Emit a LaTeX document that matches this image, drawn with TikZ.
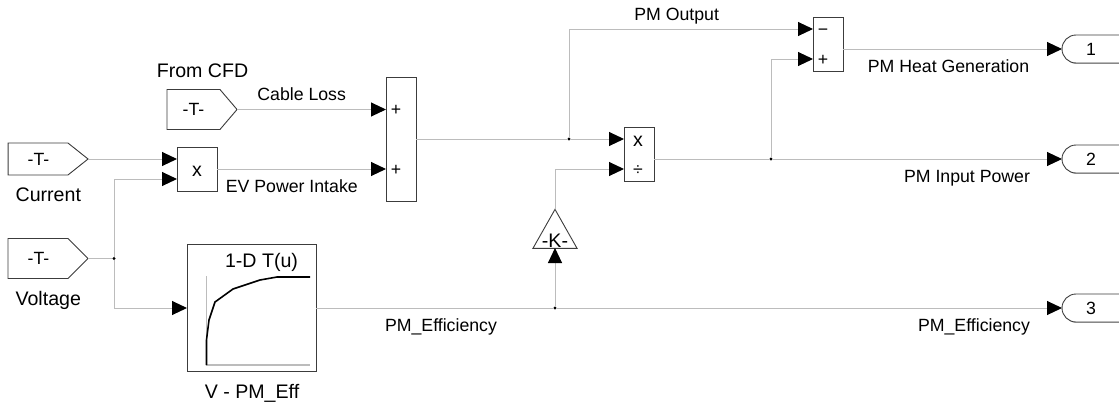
\documentclass[tikz,border=0pt]{standalone}
\usepackage{fontspec}
\setmainfont{Liberation Sans}
\usepackage{tikz}
\usetikzlibrary{arrows.meta}
\usetikzlibrary{shadows}
\usetikzlibrary{shapes.geometric}
\usetikzlibrary{shapes.misc}
\usetikzlibrary{shapes.symbols}
\definecolor{wire}{HTML}{BCBCBC}
\definecolor{edge}{HTML}{3C3C3C}

\begin{document}
\begin{tikzpicture}
    [
    x=1pt, y=-1pt,
    every node/.style={inner sep=0pt, outer sep=0pt, font=\fontsize{17.7}{20}\selectfont},
    block/.style={rectangle, draw=edge, line width=1pt, fill=white, general shadow={fill=gray!70, shadow xshift=0.9pt, shadow yshift=-0.9pt}},
    goto/.style={signal, signal to=east, draw=edge, line width=0.9pt, fill=white},
    outport/.style={rounded rectangle, draw=edge, line width=0.9pt, fill=white, minimum width=90pt, minimum height=28pt, general shadow={fill=gray!70, shadow xshift=0.9pt, shadow yshift=-0.9pt}},
    junction/.style={circle, fill=black, minimum size=3.4pt},
    sig/.style={draw=wire, line width=1pt, -{Triangle[length=15pt, width=14pt, color=black, fill=black]}},
    wire/.style={draw=wire, line width=1pt},
    big/.style={font=\fontsize{19.6}{22}\selectfont},
    ]
    \useasboundingbox (0,0) rectangle (1119,405);

    \node (cable) at (193.5,109.5) [goto, minimum width=70pt, minimum height=40pt, signal pointer angle=99] {};
    \node (current) at (38,159) [goto, minimum width=80pt, minimum height=32pt, signal pointer angle=77] {};
    \node (voltage) at (38,258.5) [goto, minimum width=80pt, minimum height=40pt, signal pointer angle=90] {};
    \node (mul) at (197,169) [block, minimum width=40pt, minimum height=44pt] {};
    \node (sum) at (401,139) [block, minimum width=30pt, minimum height=124pt] {};
    \node (lookup) at (251.5,308) [rectangle, draw=edge, line width=1pt, fill=white, minimum width=129pt, minimum height=127pt] {};
    \node (div) at (639,154) [block, minimum width=30pt, minimum height=54pt] {};
    \node (sub) at (828,44) [block, minimum width=30pt, minimum height=54pt] {};
    \node (gain) at (555,235.5) [isosceles triangle, shape border rotate=90, isosceles triangle apex angle=59, draw=edge, line width=0.9pt, fill=white, minimum height=39pt] {};
    \node (out1) at (1107,49) [outport] {};
    \node (out2) at (1107,159) [outport] {};
    \node (out3) at (1107,308) [outport] {};

    \node (jv) at (114,258.5) [junction] {};
    \node (jpm) at (569,139) [junction] {};
    \node (jin) at (771,159) [junction] {};
    \node (jeff) at (555,308) [junction] {};

    \coordinate (mul1) at (177,159);
    \coordinate (mul2) at (177,179);
    \coordinate (sum1) at (386,109.5);
    \coordinate (sum2) at (386,169);
    \coordinate (div1) at (624,139);
    \coordinate (div2) at (624,169);
    \coordinate (divout) at (654,159);
    \coordinate (sub1) at (813,29);
    \coordinate (sub2) at (813,59);
    \coordinate (subout) at (843,49);
    \coordinate (gainin) at (555,248);

    \draw [sig] (cable.east) to (sum1);
    \draw [sig] (current.east) to (mul1);
    \draw [wire] (voltage.east) to (jv);
    \draw [sig] (jv) |- (mul2);
    \draw [sig] (jv) |- (lookup.west);
    \draw [sig] (mul.east) to (sum2);
    \draw [wire] (sum.east) to (jpm);
    \draw [sig] (jpm) to (div1);
    \draw [sig] (jpm) |- (sub1);
    \draw [sig] (gain.apex) |- (div2);
    \draw [wire] (lookup.east) to (jeff);
    \draw [sig] (jeff) to (gainin);
    \draw [sig] (jeff) to (out3.west);
    \draw [wire] (divout) to (jin);
    \draw [sig] (jin) to (out2.west);
    \draw [sig] (jin) |- (sub2);
    \draw [sig] (subout) to (out1.west);

    % curve inside the lookup table
    \draw [wire, line width=1.2pt] (206.5,276) -- (206.5,365) -- (310,365);
    \draw [black, line width=1.6pt] (206.5,365) -- (206.5,340) -- (209,320) -- (215,302) -- (233,289) -- (260,280) -- (277,277) -- (310,277);

    \node (cabletext) at (193.5,115.5) [anchor=base] {-T-};
    \node (currenttext) at (38.5,165) [anchor=base] {-T-};
    \node (voltagetext) at (38.5,264) [anchor=base] {-T-};
    \node (multext) at (197,176) [anchor=base, big] {x};
    \node (sumplus1) at (396,115.5) [anchor=base] {+};
    \node (sumplus2) at (396,175) [anchor=base] {+};
    \node (divtext) at (638,146) [anchor=base, big] {x};
    \node (divsign) at (638,175) [anchor=base] {÷};
    \node (subminus) at (823,35) [anchor=base] {−};
    \node (subplus) at (823,65) [anchor=base] {+};
    \node (gaintext) at (555,247) [anchor=base, big] {-K-};
    \node (out1text) at (1091,55.5) [anchor=base] {1};
    \node (out2text) at (1091,165.5) [anchor=base] {2};
    \node (out3text) at (1091,314.5) [anchor=base] {3};

    \node (cfdlabel) at (202.5,77) [anchor=base, big] {From CFD};
    \node (currentlabel) at (48.3,201) [anchor=base, big] {Current};
    \node (voltagelabel) at (48.3,305) [anchor=base, big] {Voltage};
    \node (lookuplabel) at (252,398) [anchor=base, big] {V - PM\_Eff};
    \node (lookuptitle) at (261.5,267) [anchor=base, big] {1-D T(u)};

    \node (cableloss) at (301.7,100) [anchor=base] {Cable Loss};
    \node (evpower) at (291.8,192) [anchor=base] {EV Power Intake};
    \node (effleft) at (441,331) [anchor=base] {PM\_Efficiency};
    \node (pmoutput) at (676.7,20.7) [anchor=base] {PM Output};
    \node (heatgen) at (948.5,72.7) [anchor=base] {PM Heat Generation};
    \node (inpower) at (967,182) [anchor=base] {PM Input Power};
    \node (effright) at (974,331.5) [anchor=base] {PM\_Efficiency};
\end{tikzpicture}
\end{document}
